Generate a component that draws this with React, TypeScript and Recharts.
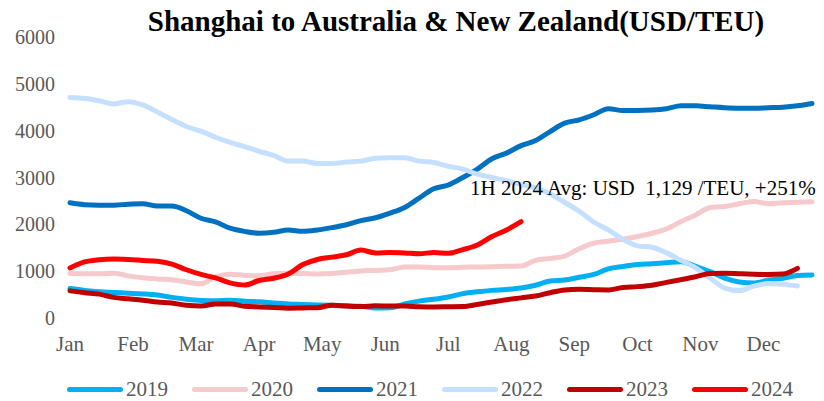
import { LineChart, Line, XAxis, YAxis } from 'recharts';

const months = ['Jan', 'Feb', 'Mar', 'Apr', 'May', 'Jun', 'Jul', 'Aug', 'Sep', 'Oct', 'Nov', 'Dec'];
const yTicks = [0, 1000, 2000, 3000, 4000, 5000, 6000];
const years = ['2019', '2020', '2021', '2022', '2023', '2024'];
const colors = ['#00B0F0', '#F6C9CC', '#0070C0', '#C5E0FF', '#C00000', '#FF0000'];

// weekly rates, USD/TEU
const v2019 = [630, 590, 560, 545, 530, 515, 490, 440, 400, 375, 370, 380, 360, 345, 320, 300, 290, 280, 270, 260, 250, 215, 220, 300, 360, 400, 450, 520, 560, 590, 610, 640, 700, 790, 810, 870, 930, 1050, 1100, 1140, 1160, 1180, 1200, 1100, 990, 850, 770, 750, 810, 850, 910, 920];
const v2020 = [950, 945, 945, 955, 900, 860, 835, 815, 770, 730, 880, 935, 910, 900, 945, 955, 950, 940, 950, 975, 1005, 1015, 1030, 1090, 1090, 1075, 1075, 1082, 1090, 1095, 1105, 1110, 1230, 1270, 1320, 1480, 1600, 1640, 1680, 1740, 1810, 1900, 2060, 2200, 2360, 2380, 2440, 2490, 2440, 2460, 2470, 2480];
const v2021 = [2460, 2420, 2410, 2410, 2430, 2440, 2390, 2390, 2290, 2130, 2050, 1920, 1850, 1810, 1830, 1880, 1850, 1880, 1930, 1990, 2080, 2140, 2240, 2360, 2560, 2760, 2840, 3000, 3180, 3400, 3520, 3680, 3790, 3980, 4160, 4230, 4340, 4470, 4430, 4430, 4440, 4470, 4530, 4530, 4510, 4490, 4480, 4480, 4490, 4500, 4530, 4580];
const v2022 = [4710, 4690, 4640, 4570, 4620, 4550, 4400, 4240, 4090, 3990, 3860, 3750, 3660, 3560, 3470, 3350, 3350, 3300, 3300, 3330, 3350, 3410, 3420, 3420, 3350, 3320, 3240, 3180, 3070, 3000, 2930, 2850, 2780, 2650, 2470, 2280, 2050, 1880, 1680, 1540, 1510, 1390, 1230, 1070, 850, 640, 585, 680, 735, 720, 683];
const v2023 = [580, 540, 510, 440, 410, 380, 340, 320, 270, 255, 300, 300, 250, 235, 225, 210, 215, 220, 270, 255, 245, 260, 255, 255, 240, 235, 240, 245, 290, 340, 390, 430, 470, 540, 600, 612, 605, 600, 650, 670, 700, 760, 820, 880, 950, 955, 945, 935, 930, 940, 1060];
const v2024 = [1070, 1200, 1245, 1260, 1250, 1230, 1210, 1150, 1030, 930, 855, 750, 705, 800, 850, 940, 1140, 1250, 1300, 1350, 1450, 1390, 1400, 1390, 1370, 1400, 1380, 1460, 1560, 1740, 1880, 2060];

const seriesValues = [v2019, v2020, v2021, v2022, v2023, v2024];

const data = v2019.map((_, i) => {
  const row: Record<string, number> = { week: i };
  years.forEach((y, k) => {
    if (seriesValues[k][i] !== undefined) row[y] = seriesValues[k][i];
  });
  return row;
});

const monthTicks = months.map((_, i) => (i * 52) / 12);
const font = "'Liberation Serif', 'Times New Roman', serif";

export default function App() {
  return (
    <div style={{ position: 'absolute', left: 0, top: 0, width: 824, height: 401, background: '#fff', fontFamily: font }}>
      <div style={{ position: 'absolute', left: 0, top: 7, width: 912, textAlign: 'center', fontSize: 29, lineHeight: '29px', fontWeight: 700, color: '#000', whiteSpace: 'nowrap' }}>
        Shanghai to Australia &amp; New Zealand(USD/TEU)
      </div>
      <LineChart width={824} height={401} data={data} margin={{ top: 37, right: 12, left: 0, bottom: 53 }}>
        <XAxis
          dataKey="week"
          type="number"
          domain={[0, 51]}
          ticks={monthTicks}
          interval={0}
          tickFormatter={(v: number) => months[Math.round((v * 12) / 52)]}
          axisLine={false}
          tickLine={false}
          tickSize={6}
          tickMargin={12}
          height={30}
          tick={{ fontSize: 21, fill: '#595959', fontFamily: font }}
        />
        <YAxis
          domain={[0, 6000]}
          ticks={yTicks}
          interval={0}
          axisLine={false}
          tickLine={false}
          tickSize={6}
          tickMargin={9}
          width={70}
          tick={{ fontSize: 20, fill: '#595959', fontFamily: font }}
        />
        {years.map((y, k) => (
          <Line
            key={y}
            type="monotone"
            dataKey={y}
            stroke={colors[k]}
            strokeWidth={5}
            dot={false}
            activeDot={false}
            strokeLinecap="round"
            isAnimationActive={false}
          />
        ))}
      </LineChart>
      <div style={{ position: 'absolute', left: 470, top: 178, fontSize: 21, lineHeight: '21px', color: '#000', whiteSpace: 'pre' }}>
        {'1H 2024 Avg: USD  1,129 /TEU, +251%'}
      </div>
      {years.map((y, k) => (
        <div key={y} style={{ position: 'absolute', left: 67 + k * 125, top: 378, height: 22, display: 'flex', alignItems: 'center' }}>
          <div style={{ width: 56, height: 5, borderRadius: 3, background: colors[k] }} />
          <span style={{ marginLeft: 3, fontSize: 21, color: '#595959', lineHeight: '22px' }}>{y}</span>
        </div>
      ))}
    </div>
  );
}
